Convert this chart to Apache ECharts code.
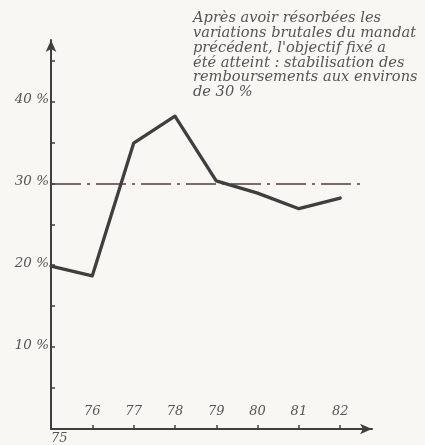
<!DOCTYPE html>
<html>
<head>
<meta charset="utf-8">
<script src="https://cdn.jsdelivr.net/npm/echarts@6/dist/echarts.min.js"></script>
<style>
html,body{margin:0;padding:0;background:#f8f7f3;}
#c{width:425px;height:445px;}
</style>
</head>
<body>
<div id="c"></div>
<script>
// Data
var years = [75, 76, 77, 78, 79, 80, 81, 82];
var values = [19.9, 18.7, 34.9, 38.2, 30.3, 28.8, 26.9, 28.2];
var xTickLabels = [76, 77, 78, 79, 80, 81, 82];
var xOriginLabel = [75];
var yTickLabels = [10, 20, 30, 40];
var yTicks = [5, 10, 15, 20, 25, 30, 35, 40, 45];
var target = 30;
var targetRange = [75, 82.5];
var note = [
  "Après avoir résorbées les",
  "variations brutales du mandat",
  "précédent, l'objectif fixé a",
  "été atteint : stabilisation des",
  "remboursements aux environs",
  "de 30 %"
];

var ink = '#3f3f3f';
var txt = '#555555';
var font = 'DejaVu Serif';

var chart = echarts.init(document.getElementById('c'), null, {renderer: 'canvas'});
chart.setOption({
  backgroundColor: '#f8f7f3',
  animation: false,
  grid: {left: 51, top: 40, right: 53, bottom: 11, containLabel: false},
  xAxis: [{
    type: 'value', min: 75, max: 82.77, position: 'bottom',
    axisLine: {show: true, lineStyle: {color: ink, width: 2}, symbol: ['none', 'arrow'], symbolSize: [8, 12]},
    axisTick: {show: true, inside: true, length: 4, customValues: xTickLabels, lineStyle: {color: ink, width: 1.5}},
    axisLabel: {show: true, inside: true, margin: 11, customValues: xTickLabels, color: txt, fontFamily: font, fontStyle: 'italic', fontSize: 13},
    splitLine: {show: false}
  }, {
    type: 'value', min: 75, max: 82.77, position: 'bottom',
    axisLine: {show: false}, axisTick: {show: false}, splitLine: {show: false},
    axisLabel: {show: true, margin: 3, align: 'left', customValues: xOriginLabel, color: txt, fontFamily: font, fontStyle: 'italic', fontSize: 13}
  }],
  yAxis: {
    type: 'value', min: 0, max: 47.5,
    axisLine: {show: true, onZero: false, lineStyle: {color: ink, width: 2}, symbol: ['none', 'arrow'], symbolSize: [8, 12]},
    axisTick: {show: true, inside: true, length: 4, customValues: yTicks, lineStyle: {color: ink, width: 1.5}},
    axisLabel: {show: true, margin: 2, customValues: yTickLabels, formatter: function (v) { return v + ' %'; }, color: txt, fontFamily: font, fontStyle: 'italic', fontSize: 13.5, verticalAlign: 'bottom', padding: [0, 0, -5, 0]},
    splitLine: {show: false}
  },
  series: [{
    type: 'line',
    xAxisIndex: 0,
    data: years.map(function (y, i) { return [y, values[i]]; }),
    showSymbol: false,
    lineStyle: {color: ink, width: 3.3, join: 'round', cap: 'round'},
    markLine: {
      silent: true, symbol: ['none', 'none'], label: {show: false},
      lineStyle: {color: '#4a3f3f', width: 1.5, type: [30, 6, 3, 6]},
      data: [[{coord: [targetRange[0], target]}, {coord: [targetRange[1], target]}]]
    },
    z: 3
  }],
  graphic: [{
    type: 'text', left: 193, top: 11, z: 10,
    style: {
      text: note.join('\n'), fill: txt, font: 'italic 14.6px "DejaVu Serif"', lineHeight: 14.8
    }
  }]
});
</script>
</body>
</html>
